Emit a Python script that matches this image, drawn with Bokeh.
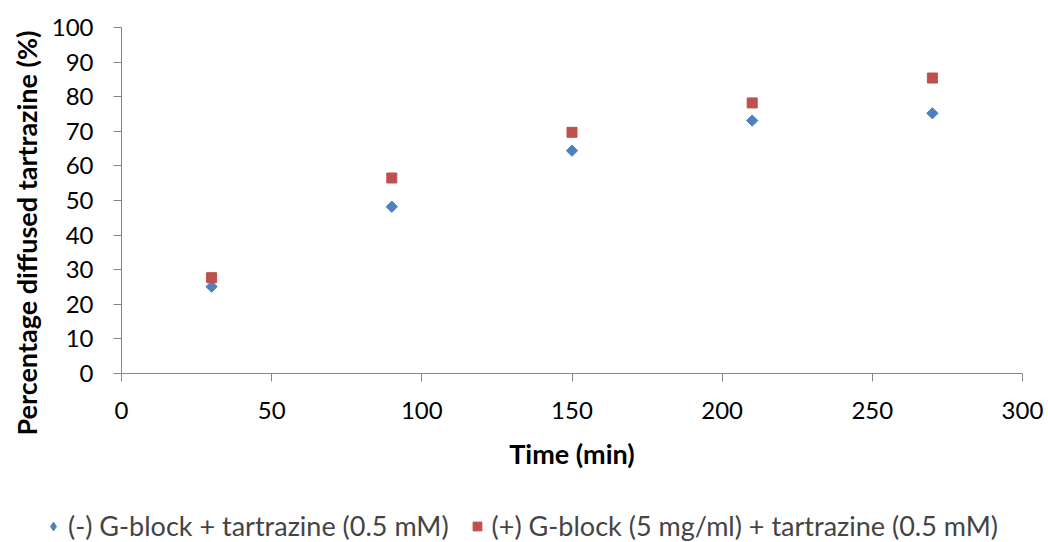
from bokeh.plotting import figure
from bokeh.models import Legend, LegendItem, Range1d, FixedTicker, Title
from bokeh.embed import file_html
from bokeh.resources import INLINE
import math

time_min = [30, 90, 150, 210, 270]
minus_gblock = [25.1, 48.2, 64.4, 73.1, 75.2]
plus_gblock = [27.7, 56.5, 69.7, 78.2, 85.4]
x_ticks = [0, 50, 100, 150, 200, 250, 300]
y_ticks = [0, 10, 20, 30, 40, 50, 60, 70, 80, 90, 100]
series_names = ["(-) G-block + tartrazine (0.5 mM)",
                "(+) G-block (5 mg/ml) + tartrazine (0.5 mM)"]
x_title = "Time (min)"
y_title = "Percentage diffused tartrazine (%)"

FONT = "Lato"
AXIS_COL = "#868686"
BLUE = "#4F81BD"
RED = "#C0504D"

p = figure(frame_width=901, frame_height=346, output_backend="svg", toolbar_location=None,
           x_range=Range1d(0, 300), y_range=Range1d(0, 100),
           min_border_left=121, min_border_right=26, min_border_top=27,
           min_border_bottom=132, outline_line_color=None,
           x_axis_label=x_title)
p.grid.visible = False

for ax, ticks in ((p.xaxis[0], x_ticks), (p.yaxis[0], y_ticks)):
    ax.ticker = FixedTicker(ticks=ticks)
    ax.axis_line_color = AXIS_COL
    ax.major_tick_line_color = AXIS_COL
    ax.minor_tick_line_color = None
    ax.major_tick_out = 8
    ax.major_tick_in = 0
    ax.major_label_text_font = FONT
    ax.major_label_text_font_size = "24px"
    ax.major_label_text_color = "#000000"
    ax.axis_label_text_font = FONT
    ax.axis_label_text_font_size = "27px"
    ax.axis_label_text_font_style = "bold"
    ax.axis_label_text_color = "#000000"

p.xaxis[0].major_label_standoff = 20
p.xaxis[0].axis_label_standoff = 15
p.yaxis[0].major_label_standoff = 20

ytitle = Title(text=y_title, align="left", offset=-62, standoff=12,
               text_font=FONT, text_font_size="27px", text_font_style="bold",
               text_color="#000000")
p.add_layout(ytitle, "left")

p.scatter(time_min, minus_gblock, marker="square", angle=math.pi / 4, size=8,
          fill_color=BLUE, line_color=BLUE)
p.scatter(time_min, plus_gblock, marker="square", size=10,
          fill_color=RED, line_color=RED)

# legend strip below the chart, as a separate root (its renderers lie outside its ranges)
lg = figure(width=1048, height=37, output_backend="svg", toolbar_location=None,
            min_border=0, outline_line_color=None,
            x_axis_location=None, y_axis_location=None,
            x_range=Range1d(1000, 1001), y_range=Range1d(1000, 1001))
lg.grid.visible = False
d1 = lg.scatter(time_min, minus_gblock, marker="diamond", size=10,
                fill_color=BLUE, line_color=BLUE)
d2 = lg.scatter(time_min, plus_gblock, marker="square", size=10,
                fill_color=RED, line_color=RED)

legend = Legend(items=[LegendItem(label=series_names[0], renderers=[d1]),
                       LegendItem(label=series_names[1], renderers=[d2])],
                orientation="horizontal", location=(42, 0),
                border_line_color=None, background_fill_alpha=0,
                label_text_font=FONT, label_text_font_size="27px",
                glyph_width=22, glyph_height=22, label_standoff=4,
                spacing=17, margin=0, padding=0)
lg.add_layout(legend, "center")

open("out.html", "w").write(file_html([p, lg], INLINE))
